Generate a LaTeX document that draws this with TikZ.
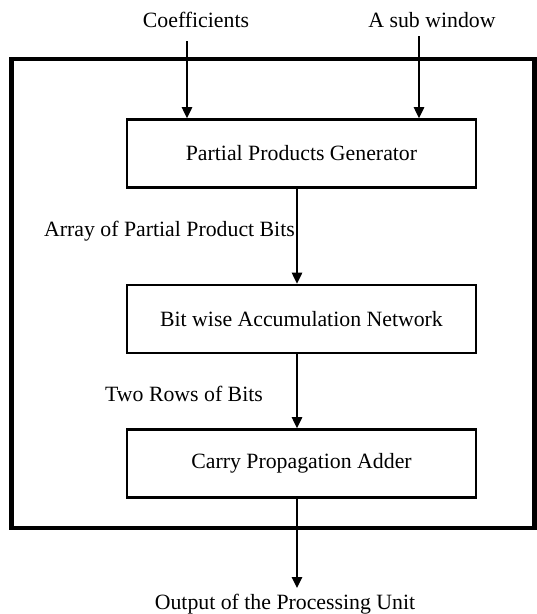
\documentclass[tikz,border=0pt]{standalone}
\usepackage{fontspec}
\setmainfont{Liberation Serif}
\usetikzlibrary{arrows.meta,calc}
\begin{document}
\begin{tikzpicture}[x=1pt,y=-1pt,
  stage/.style={draw,line width=2.8pt,rectangle,inner sep=0pt,
    minimum width=349pt,minimum height=68pt,font=\fontsize{21.8}{24}\selectfont},
  lbl/.style={inner sep=0pt,font=\fontsize{21.8}{24}\selectfont},
  flow/.style={line width=1.4pt,-{Triangle[length=11pt,width=10.5pt]}}]
  \useasboundingbox (0,0) rectangle (537,614);
  % enclosing frame of the processing unit
  \node[draw,line width=4.5pt,inner sep=0pt,minimum width=523pt,minimum height=469pt]
    (frame) at (273,293.5) {};
  % pipeline stages
  \node[stage] (ppg) at (301.5,153.5) {Partial Products Generator};
  \node[stage] (ban) at (301.5,319) {Bit wise Accumulation Network};
  \node[stage] (cpa) at (301.5,463.5) {Carry Propagation Adder};
  % inputs
  \node[lbl] (coef) at (196,20) {Coefficients};
  \node[lbl] (subw) at (432,20) {A sub window};
  \coordinate (coefin) at (187,41);
  \coordinate (subwin) at (419,36);
  \draw[flow] (coefin) -- (coefin |- ppg.north);
  \draw[flow] (subwin) -- (subwin |- ppg.north);
  % data path between stages
  \coordinate (spine) at (297,0);
  \node[lbl] (arr) at (169.5,231) {Array of Partial Product Bits};
  \node[lbl] (rows) at (184,394) {Two Rows of Bits};
  \draw[flow] (ppg.south -| spine) -- (ban.north -| spine);
  \draw[flow] (ban.south -| spine) -- (cpa.north -| spine);
  % output
  \coordinate (outend) at (297,588);
  \node[lbl] (out) at (285,604) {Output of the Processing Unit};
  \draw[flow] (cpa.south -| spine) -- (outend);
\end{tikzpicture}
\end{document}
